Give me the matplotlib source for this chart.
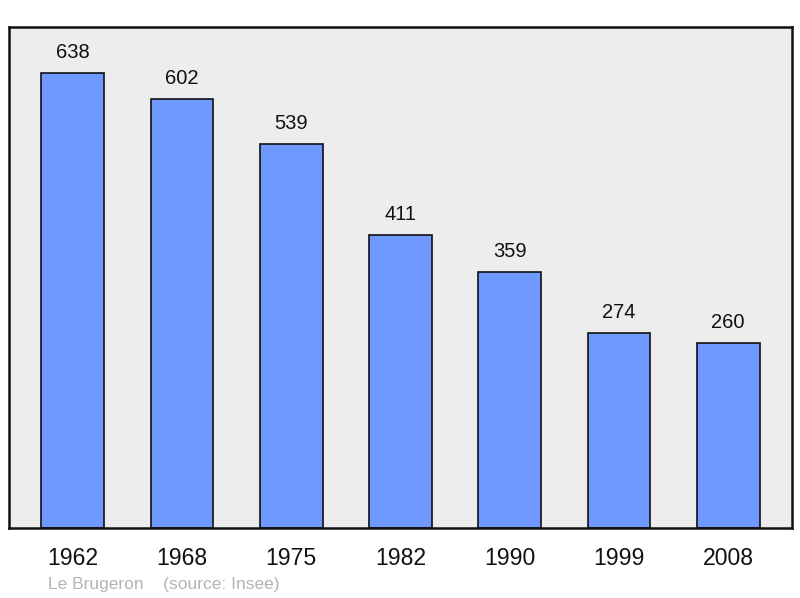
import matplotlib
matplotlib.use("Agg")
import matplotlib.pyplot as plt

years = ["1962", "1968", "1975", "1982", "1990", "1999", "2008"]
population = [638, 602, 539, 411, 359, 274, 260]
source_text = "Le Brugeron    (source: Insee)"

plt.rcParams['font.family'] = ['Liberation Sans', 'DejaVu Sans']

W, H = 800, 598
fig = plt.figure(figsize=(W / 100, H / 100), dpi=100)
ax = fig.add_axes([9 / W, (H - 528) / H, 783 / W, 501 / H])
ax.set_facecolor('#ededed')

x = list(range(len(years)))
ax.bar(x, population, width=0.575, color='#7099ff', edgecolor='#111111', linewidth=1.2, zorder=2)
ax.set_xlim(-0.585, len(years) - 1 + 0.585)
ax.set_ylim(0, 702.5)

for xi, v in zip(x, population):
    ax.annotate(str(v), xy=(xi, v), xytext=(0, 20 * 0.72), textcoords='offset points',
                ha='center', va='center', fontsize=14.5, color='#111111')

for xi, yr in zip(x, years):
    ax.annotate(yr, xy=(xi, 0), xycoords=('data', 'axes fraction'), xytext=(0, -30.5 * 0.72),
                textcoords='offset points', ha='center', va='center', fontsize=16.6, color='#111111',
                annotation_clip=False)

ax.set_xticks([])
ax.set_yticks([])
for s in ax.spines.values():
    s.set_linewidth(1.8)
    s.set_color('#111111')

fig.text(48 / W, 1 - 585 / H, source_text, ha='left', va='center', fontsize=12.5, color='#b4b4b4')

fig.savefig('out.png', dpi=100)
